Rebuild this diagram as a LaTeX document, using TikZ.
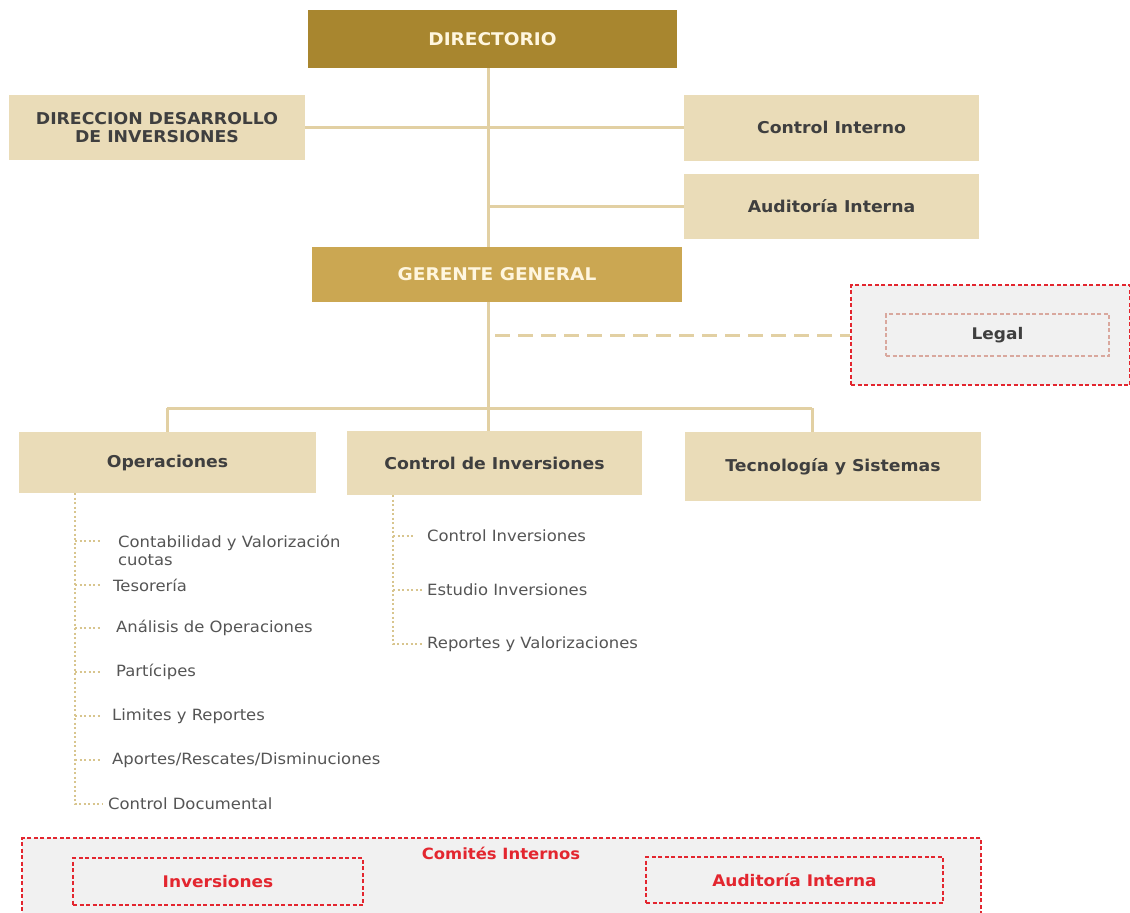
\documentclass[tikz,border=0pt]{standalone}
\usepackage{fontspec}
\setmainfont{DejaVu Sans}[FakeStretch=1.06]
\definecolor{dirgold}{HTML}{A8862F}
\definecolor{ggold}{HTML}{CBA752}
\definecolor{boxbg}{HTML}{EADCB8}
\definecolor{linec}{HTML}{E2D0A3}
\definecolor{dotc}{HTML}{D8C58E}
\definecolor{txtd}{HTML}{3F3F3F}
\definecolor{subtxt}{HTML}{555555}
\definecolor{redc}{HTML}{E3262F}
\definecolor{grayf}{HTML}{F1F1F1}
\definecolor{legalb}{HTML}{D9A89E}
\definecolor{goldtxt}{HTML}{FFF6DF}
\tikzset{
  goldbox/.style={rectangle, inner sep=2pt, text=goldtxt, font=\bfseries\fontsize{17.5}{20}\selectfont},
  lightbox/.style={rectangle, fill=boxbg, inner sep=2pt, text=txtd, align=center, font=\bfseries\fontsize{16.3}{18}\selectfont},
  conn/.style={draw=linec, line width=3pt},
  dashconn/.style={draw=linec, line width=3pt, dash pattern=on 15pt off 8pt},
  dotconn/.style={draw=dotc, line width=2pt, dash pattern=on 2pt off 2.5pt},
  subitem/.style={anchor=west, inner sep=0pt, text=subtxt, align=left, font=\fontsize{15.5}{18}\selectfont},
  redouter/.style={rectangle, draw=redc, fill=grayf, line width=1.2pt, dash pattern=on 4pt off 2.5pt, inner sep=0pt},
  redinner/.style={rectangle, draw=redc, line width=1.2pt, dash pattern=on 4pt off 2.5pt, inner sep=0pt, text=redc, font=\bfseries\fontsize{16}{18}\selectfont},
  legalinner/.style={rectangle, draw=legalb, line width=1.2pt, dash pattern=on 4pt off 2.5pt, inner sep=0pt, text=txtd, font=\bfseries\fontsize{16}{18}\selectfont},
}
\begin{document}
\begin{tikzpicture}[x=1pt,y=-1pt]
\useasboundingbox[fill=white] (0,0) rectangle (1130,913);

% top boxes
\node[goldbox, fill=dirgold, minimum width=369pt, minimum height=58pt] (dir) at (492.5,39) {DIRECTORIO};
\node[lightbox, minimum width=296pt, minimum height=65pt] (ddi) at (157,127.5) {DIRECCION DESARROLLO\\DE INVERSIONES};
\node[lightbox, minimum width=295pt, minimum height=66pt] (ci) at (831.5,127.5) {Control Interno};
\node[lightbox, minimum width=295pt, minimum height=65pt] (ai) at (831.5,206) {Auditoría Interna};
\node[goldbox, fill=ggold, minimum width=370pt, minimum height=55pt] (gg) at (497,274.5) {GERENTE GENERAL};

% legal
\node[redouter, minimum width=279pt, minimum height=100pt] (lego) at (990.5,335) {};
\node[legalinner, minimum width=223pt, minimum height=42pt] (legal) at (997.5,335) {Legal};

% level 2
\node[lightbox, minimum width=297pt, minimum height=61pt] (ops) at (167.5,462.5) {Operaciones};
\node[lightbox, minimum width=295pt, minimum height=64pt] (cdi) at (494.5,463) {Control de Inversiones};
\node[lightbox, minimum width=296pt, minimum height=69pt] (tys) at (833,466.5) {Tecnología y Sistemas};

% spine coordinates
\coordinate (sp) at (488,0);
\coordinate (bL) at (167,408);
\coordinate (bM) at (488,408);
\coordinate (bR) at (812,408);
\coordinate (dstart) at (495,335);

% connectors
\draw[conn] (dir.south -| sp) -- (gg.north -| sp);
\draw[conn] (gg.south -| sp) -- (bM);
\draw[conn] (ddi.east) -- (ci.west);
\draw[conn] (ai.west -| sp) -- (ai.west);
\draw[dashconn] (dstart) -- (lego.west);
\draw[conn] (bL) -- (bR);
\draw[conn] (bL) -- (bL |- ops.north);
\draw[conn] (bM) -- (bM |- cdi.north);
\draw[conn] (bR) -- (bR |- tys.north);

% operaciones sub items
\node[subitem] (s1) at (118,550) {Contabilidad y Valorización\\cuotas};
\node[subitem] (s2) at (113,585) {Tesorería};
\node[subitem] (s3) at (116,628) {Análisis de Operaciones};
\node[subitem] (s4) at (116,672) {Partícipes};
\node[subitem] (s5) at (112,716) {Limites y Reportes};
\node[subitem] (s6) at (112,760) {Aportes/Rescates/Disminuciones};
\node[subitem] (s7) at (108,804) {Control Documental};
\coordinate (ox) at (75,0);
\coordinate (s1a) at (100,541);
\draw[dotconn] (ops.south -| ox) -- (s7.west -| ox) -- ([xshift=-6pt]s7.west);
\draw[dotconn] (s1a -| ox) -- (s1a);
\draw[dotconn] (s2.west -| ox) -- ([xshift=-13pt]s2.west);
\draw[dotconn] (s3.west -| ox) -- ([xshift=-16pt]s3.west);
\draw[dotconn] (s4.west -| ox) -- ([xshift=-16pt]s4.west);
\draw[dotconn] (s5.west -| ox) -- ([xshift=-12pt]s5.west);
\draw[dotconn] (s6.west -| ox) -- ([xshift=-12pt]s6.west);

% control de inversiones sub items
\node[subitem] (c1) at (427,536) {Control Inversiones};
\node[subitem] (c2) at (427,590) {Estudio Inversiones};
\node[subitem] (c3) at (427,644) {Reportes y Valorizaciones};
\coordinate (cx) at (393,0);
\draw[dotconn] (cdi.south -| cx) -- (c3.west -| cx) -- ([xshift=-4pt]c3.west);
\draw[dotconn] (c1.west -| cx) -- ([xshift=-14pt]c1.west);
\draw[dotconn] (c2.west -| cx) -- ([xshift=-4pt]c2.west);

% comites internos
\node[redouter, minimum width=959pt, minimum height=80pt] (com) at (501.5,878) {};
\node[text=redc, font=\bfseries\fontsize{15.5}{18}\selectfont, inner sep=0pt] (comt) at (501,853) {Comités Internos};
\node[redinner, minimum width=290pt, minimum height=47pt] (cinv) at (218,881.5) {Inversiones};
\node[redinner, minimum width=297pt, minimum height=46pt] (caud) at (794.5,880) {Auditoría Interna};
\end{tikzpicture}
\end{document}
